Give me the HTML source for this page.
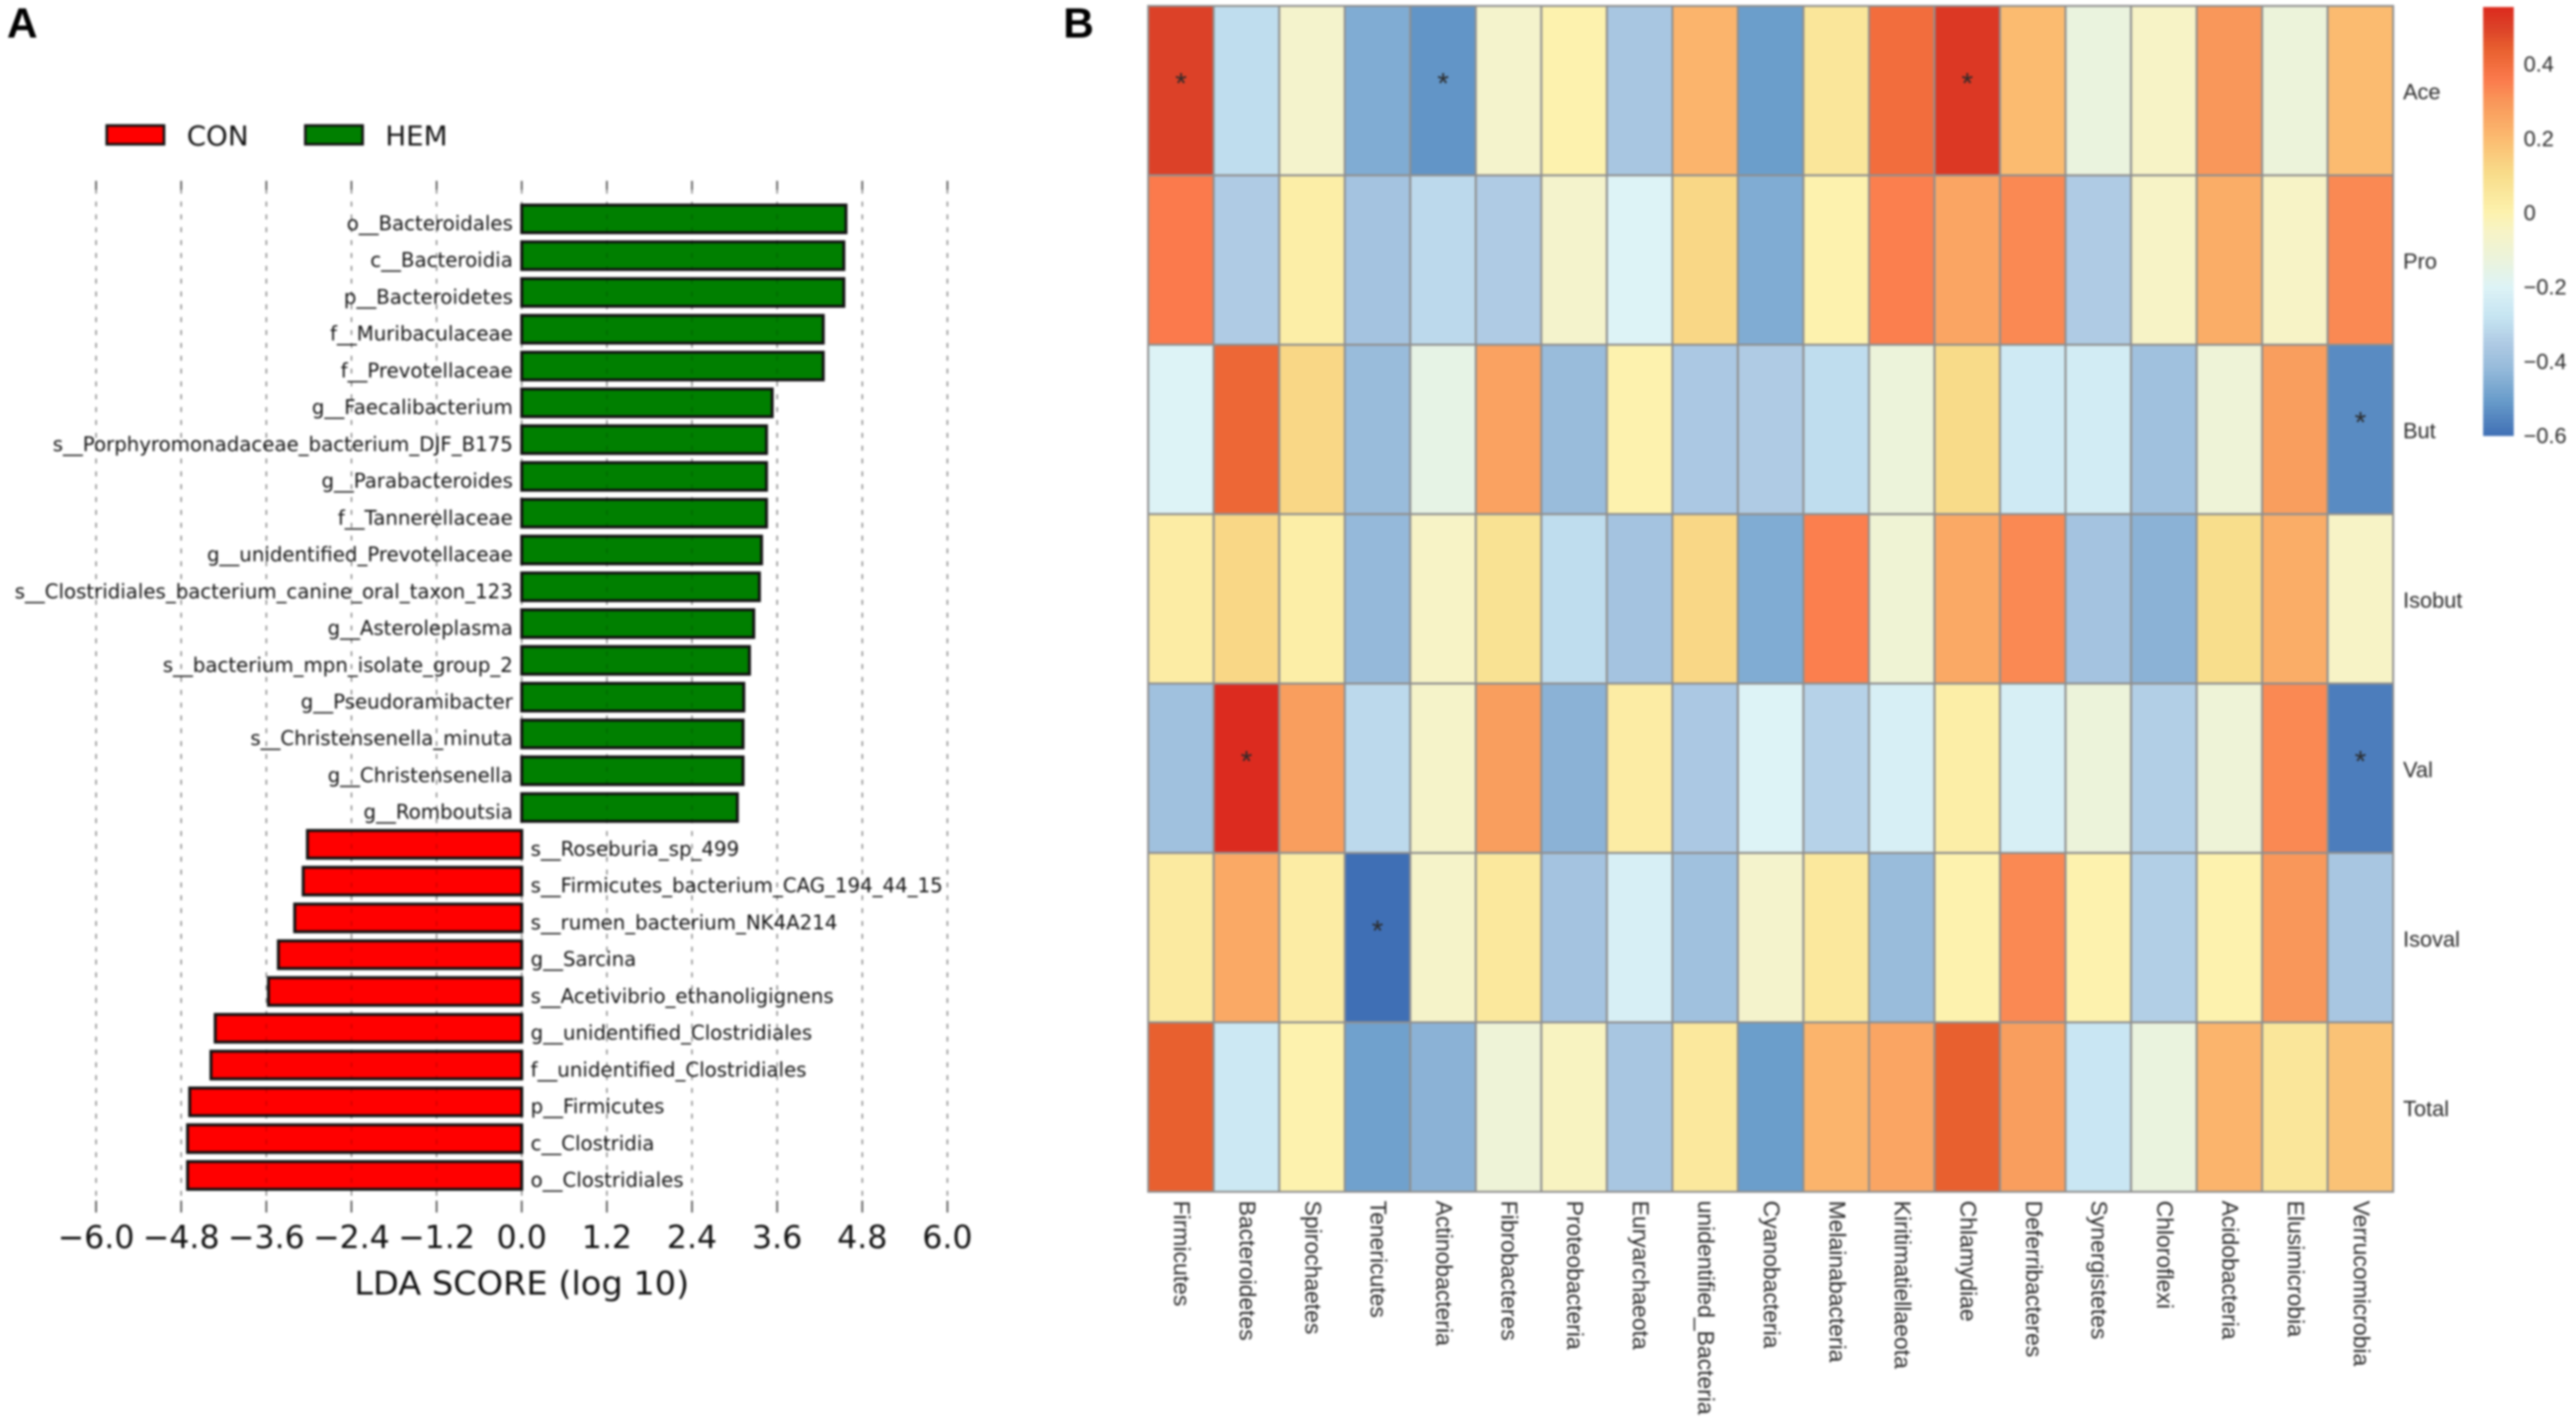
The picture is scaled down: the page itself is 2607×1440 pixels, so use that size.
<!DOCTYPE html>
<html lang="en">
<head>
<meta charset="utf-8">
<title>LDA scores and correlation heatmap</title>
<style>
html,body{margin:0;padding:0;background:#fff;}
body{width:2607px;height:1440px;overflow:hidden;}
svg{display:block;filter:blur(1px);}
.dj{font-family:"DejaVu Sans",sans-serif;fill:#111;}
.ls{font-family:"Liberation Sans",sans-serif;fill:#2a2a2a;}
</style>
</head>
<body>
<svg id="figure" xmlns="http://www.w3.org/2000/svg" width="2607" height="1440" viewBox="0 0 2607 1440">
  <rect x="0" y="0" width="2607" height="1440" fill="#fff"/>
  <text x="7" y="38" font-family="Liberation Sans, sans-serif" font-weight="700" font-size="43" fill="#000">A</text>
  <text x="1076" y="38" font-family="Liberation Sans, sans-serif" font-weight="700" font-size="43" fill="#000">B</text>

  <g id="lda-panel">
    <g id="lda-legend">
      <g>
        <rect x="108" y="127" width="58" height="19" fill="#ff0000" stroke="#111" stroke-width="2.6"/>
        <text class="dj" x="189" y="147" font-size="28">CON</text>
      </g>
      <g>
        <rect x="309" y="127" width="58" height="19" fill="#007f00" stroke="#111" stroke-width="2.6"/>
        <text class="dj" x="390" y="147" font-size="28">HEM</text>
      </g>
    </g>
    <g id="lda-grid"></g>
    <g id="lda-bars"></g>
    <g id="lda-grid-over" opacity="0.2"></g>
    <g id="lda-labels"></g>
    <g id="lda-ticks"></g>
    <text class="dj" x="528" y="1310" font-size="33" text-anchor="middle" textLength="339" lengthAdjust="spacingAndGlyphs">LDA SCORE (log 10)</text>
  </g>

  <g id="heat-panel">
    <g id="heat-cells"></g>
    <g id="heat-stars"></g>
    <g id="heat-rows"></g>
    <g id="heat-cols"></g>
    <g id="heat-bar"></g>
    <g id="heat-bar-ticks"></g>
  </g>
</svg>

<script>
const ldaTaxa = ["o__Bacteroidales","c__Bacteroidia","p__Bacteroidetes","f__Muribaculaceae","f__Prevotellaceae","g__Faecalibacterium","s__Porphyromonadaceae_bacterium_DJF_B175","g__Parabacteroides","f__Tannerellaceae","g__unidentified_Prevotellaceae","s__Clostridiales_bacterium_canine_oral_taxon_123","g__Asteroleplasma","s__bacterium_mpn_isolate_group_2","g__Pseudoramibacter","s__Christensenella_minuta","g__Christensenella","g__Romboutsia","s__Roseburia_sp_499","s__Firmicutes_bacterium_CAG_194_44_15","s__rumen_bacterium_NK4A214","g__Sarcina","s__Acetivibrio_ethanoligignens","g__unidentified_Clostridiales","f__unidentified_Clostridiales","p__Firmicutes","c__Clostridia","o__Clostridiales"];
const ldaScores = [4.57,4.54,4.54,4.25,4.25,3.53,3.45,3.45,3.45,3.38,3.35,3.27,3.21,3.13,3.12,3.12,3.04,-3.02,-3.08,-3.2,-3.43,-3.57,-4.32,-4.38,-4.68,-4.71,-4.71];
const ldaTicks = [-6,-4.8,-3.6,-2.4,-1.2,0,1.2,2.4,3.6,4.8,6];

const heatRows = ["Ace","Pro","But","Isobut","Val","Isoval","Total"];
const heatCols = ["Firmicutes","Bacteroidetes","Spirochaetes","Tenericutes","Actinobacteria","Fibrobacteres","Proteobacteria","Euryarchaeota","unidentified_Bacteria","Cyanobacteria","Melainabacteria","Kiritimatiellaeota","Chlamydiae","Deferribacteres","Synergistetes","Chloroflexi","Acidobacteria","Elusimicrobia","Verrucomicrobia"];
const aceValues = [0.50,-0.30,-0.07,-0.46,-0.52,-0.07,0.0,-0.37,0.22,-0.50,0.06,0.40,0.52,0.20,-0.13,-0.05,0.30,-0.12,0.20];
const proValues = [0.36,-0.35,0.02,-0.38,-0.31,-0.35,-0.07,-0.20,0.12,-0.46,0.0,0.35,0.26,0.33,-0.35,-0.05,0.24,-0.05,0.33];
const butValues = [-0.20,0.42,0.12,-0.41,-0.15,0.27,-0.41,0.0,-0.36,-0.35,-0.30,-0.12,0.11,-0.25,-0.24,-0.39,-0.11,0.28,-0.54];
const isobutValues = [0.03,0.12,0.02,-0.42,-0.05,0.08,-0.30,-0.38,0.12,-0.46,0.35,-0.10,0.25,0.33,-0.38,-0.44,0.10,0.24,-0.05];
const valValues = [-0.39,0.55,0.28,-0.31,-0.06,0.28,-0.44,0.03,-0.36,-0.20,-0.33,-0.22,0.02,-0.22,-0.12,-0.34,-0.11,0.33,-0.57];
const isovalValues = [0.04,0.25,0.03,-0.60,-0.06,0.05,-0.38,-0.22,-0.39,-0.07,0.05,-0.41,0.0,0.33,0.0,-0.34,0.0,0.30,-0.37];
const totalValues = [0.44,-0.26,0.0,-0.49,-0.44,-0.11,-0.04,-0.37,0.05,-0.50,0.22,0.26,0.44,0.28,-0.27,-0.13,0.22,0.06,0.18];
const heatValues = [aceValues,proValues,butValues,isobutValues,valValues,isovalValues,totalValues];
const starRows = ["Ace","Ace","Ace","But","Val","Val","Isoval"];
const starCols = ["Firmicutes","Actinobacteria","Chlamydiae","Verrucomicrobia","Bacteroidetes","Verrucomicrobia","Tenericutes"];
const colorbarTicks = [0.4,0.2,0,-0.2,-0.4,-0.6];
const colorbarTickLabels = ["0.4","0.2","0","\u22120.2","\u22120.4","\u22120.6"];

const rampValues = [-0.6,-0.5,-0.42,-0.35,-0.28,-0.2,-0.12,-0.05,0,0.1,0.2,0.3,0.36,0.44,0.5,0.553];
const rampColors = ["#3f6fb5","#6b9ecb","#95b9da","#afcbe4","#c6e4f2","#ddf3f6","#ecf3da","#f7f3c6","#fdf2ae","#f8de8c","#fbbb70","#f9975a","#fb7a4c","#e8602f","#dc4128","#dc2a1e"];

const NS = "http://www.w3.org/2000/svg";
function node(parentId, tag, attrs, text) {
  const el = document.createElementNS(NS, tag);
  for (const k in attrs) el.setAttribute(k, attrs[k]);
  if (text !== undefined) el.textContent = text;
  document.getElementById(parentId).appendChild(el);
  return el;
}
function hexToRgb(h) {
  return [parseInt(h.slice(1,3),16),parseInt(h.slice(3,5),16),parseInt(h.slice(5,7),16)];
}
function colorFor(v) {
  const last = rampValues.length - 1;
  if (v <= rampValues[0]) return rampColors[0];
  if (v >= rampValues[last]) return rampColors[last];
  let i = 0;
  while (v > rampValues[i + 1]) i++;
  const t = (v - rampValues[i]) / (rampValues[i + 1] - rampValues[i]);
  const a = hexToRgb(rampColors[i]), b = hexToRgb(rampColors[i + 1]);
  return "rgb(" + a.map(function (c, n) { return Math.round(c + (b[n] - c) * t); }).join(",") + ")";
}

/* LDA axis functions */
const ldaX = function (v) { return 528 + v * 71.8; };
const ldaBarTop = function (i) { return 206 + i * 37.23; };
const ldaBarHeight = 31;
const ldaBarEdge = 3;

ldaTicks.forEach(function (t) {
  const x = ldaX(t);
  const g = node("lda-grid", "line", {x1:x, x2:x, y1:191, y2:1215, stroke:"#999", "stroke-width":1.3, "stroke-dasharray":"5 8"});
  
  
  const o = node("lda-grid-over", "line", {x1:x, x2:x, y1:191, y2:1215, stroke:"#000", "stroke-width":1.3, "stroke-dasharray":"5 8"});
  
  
  const a = node("lda-ticks", "line", {x1:x, x2:x, y1:183, y2:192, stroke:"#444", "stroke-width":1.6});
  
  
  const b = node("lda-ticks", "line", {x1:x, x2:x, y1:1215, y2:1227, stroke:"#444", "stroke-width":1.6});
  
  
  const label = (t < 0 ? "\u2212" : "") + Math.abs(t).toFixed(1);
  const l = node("lda-ticks", "text", {x:x, y:1263, "font-size":32, "text-anchor":"middle", "class":"dj"}, label);
  
  
});

ldaScores.forEach(function (v, i) {
  const x0 = ldaX(0), x1 = ldaX(v), y = ldaBarTop(i);
  const r = node("lda-bars", "rect", {
    x: Math.min(x0, x1), y: y + ldaBarEdge / 2, width: Math.abs(x1 - x0), height: ldaBarHeight - ldaBarEdge,
    fill: v >= 0 ? "#007f00" : "#ff0000", stroke: "#111", "stroke-width": ldaBarEdge
  });
  
  
  const t = node("lda-labels", "text", {
    x: v >= 0 ? x0 - 9 : x0 + 9, y: y + 27, "font-size": 20,
    "text-anchor": v >= 0 ? "end" : "start", "class": "dj"
  }, ldaTaxa[i]);
  
  
});

/* Heatmap axis functions */
const cellW = (2422 - 1162) / heatCols.length;
const cellH = (1206 - 6) / heatRows.length;
const colX = function (j) { return 1162 + j * cellW; };
const rowY = function (i) { return 6 + i * cellH; };

heatValues.forEach(function (row, i) {
  row.forEach(function (v, j) {
    const c = node("heat-cells", "rect", {
      x: colX(j), y: rowY(i), width: cellW, height: cellH,
      fill: colorFor(v), stroke: "#8f8f8f", "stroke-width": 2
    });
    
    
  });
});

starRows.forEach(function (rowName, k) {
  const i = heatRows.indexOf(rowName), j = heatCols.indexOf(starCols[k]);
  const s = node("heat-stars", "text", {
    x: colX(j) + cellW / 2, y: rowY(i) + cellH / 2 + 3, "font-size": 30,
    "text-anchor": "middle", "class": "ls"
  }, "*");
  
  
});

heatRows.forEach(function (name, i) {
  const t = node("heat-rows", "text", {x: 2432, y: rowY(i) + cellH / 2 + 9, "font-size": 22, "class": "ls"}, name);
  
  
});

heatCols.forEach(function (name, j) {
  const x = colX(j) + cellW / 2 - 7, y = 1215;
  const t = node("heat-cols", "text", {x: x, y: y, "font-size": 23.2, "class": "ls", transform: "rotate(90 " + x + " " + y + ")"}, name);
  
  
});

/* Colorbar */
const barY = function (v) { return 215 - v * 376; };
const barSteps = 100;
for (let n = 0; n < barSteps; n++) {
  const lo = -0.6 + (n / barSteps) * 1.153, hi = -0.6 + ((n + 1) / barSteps) * 1.153;
  const seg = node("heat-bar", "rect", {x: 2513, y: barY(hi), width: 31, height: barY(lo) - barY(hi) + 0.6, fill: colorFor((lo + hi) / 2)});
  
  
}
colorbarTicks.forEach(function (v, k) {
  const t = node("heat-bar-ticks", "text", {x: 2554, y: barY(v) + 8, "font-size": 22, "class": "ls"}, colorbarTickLabels[k]);
  
  
});
</script>
</body>
</html>
